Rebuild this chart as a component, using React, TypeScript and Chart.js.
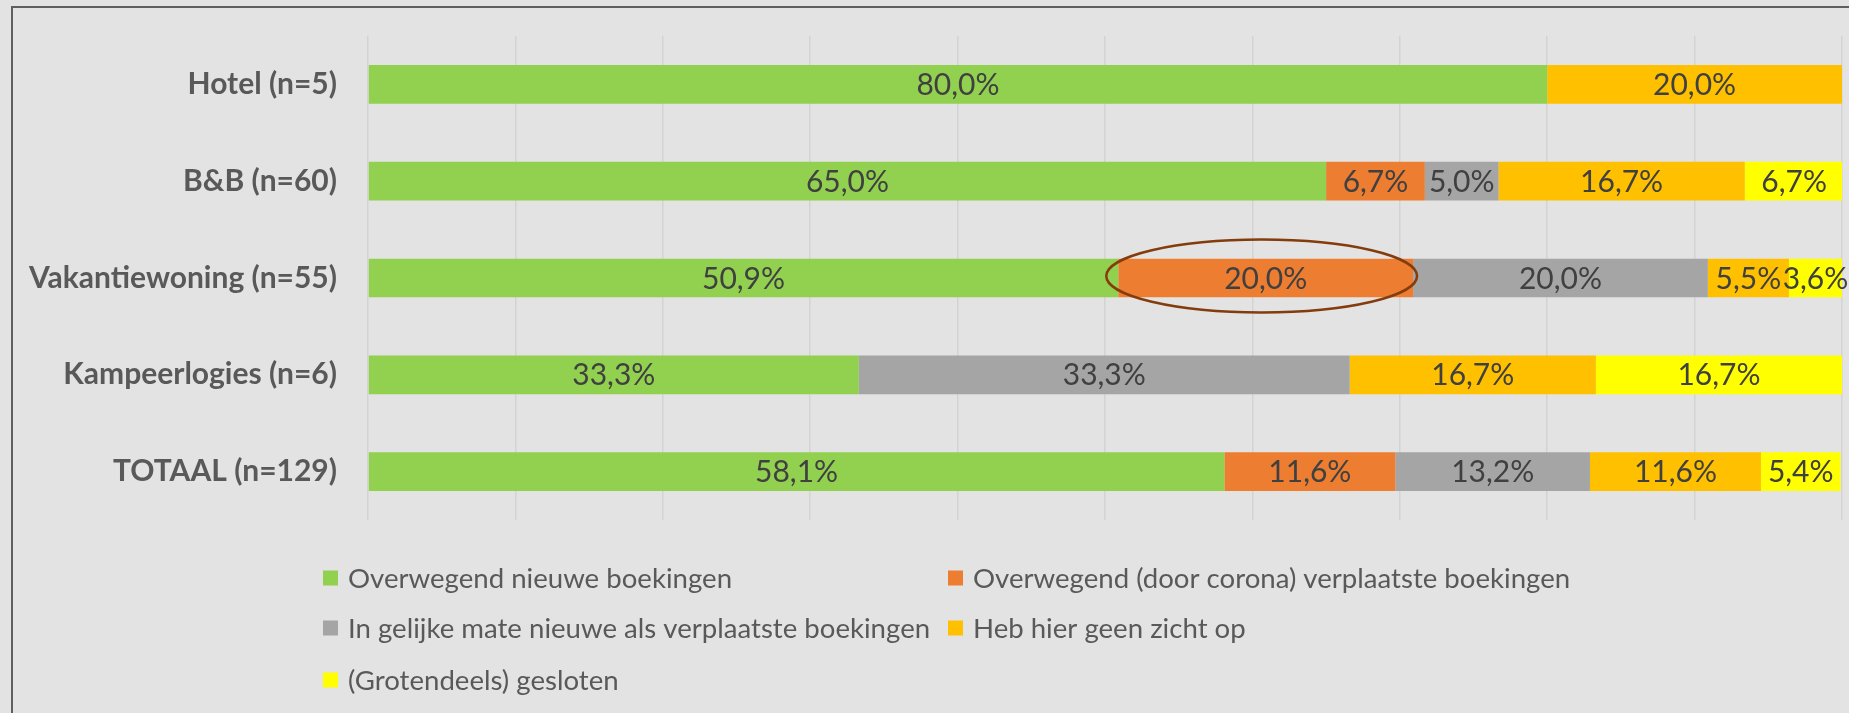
import React, { useEffect, useRef } from 'react';
import { Chart, registerables } from 'chart.js';

Chart.register(...registerables);

const categories = ['Hotel (n=5)', 'B&B (n=60)', 'Vakantiewoning (n=55)', 'Kampeerlogies (n=6)', 'TOTAAL (n=129)'];
const seriesNames = [
  'Overwegend nieuwe boekingen',
  'Overwegend (door corona) verplaatste boekingen',
  'In gelijke mate nieuwe als verplaatste boekingen',
  'Heb hier geen zicht op',
  '(Grotendeels) gesloten',
];
const nieuweBoekingen = [80.0, 65.0, 50.9, 33.3, 58.1];
const verplaatsteBoekingen = [0, 6.7, 20.0, 0, 11.6];
const gelijkeMate = [0, 5.0, 20.0, 33.3, 13.2];
const geenZicht = [20.0, 16.7, 5.5, 16.7, 11.6];
const gesloten = [0, 6.7, 3.6, 16.7, 5.4];
const seriesValues = [nieuweBoekingen, verplaatsteBoekingen, gelijkeMate, geenZicht, gesloten];
const seriesColors = ['#92d050', '#ed7d31', '#a5a5a5', '#ffc000', '#ffff00'];
const highlighted = { category: 2, series: 1 };

const BG = '#e3e3e3';
const FONT = 'Lato';

const fmt = (v: number) => v.toFixed(1).replace('.', ',') + '%';

const backgroundPlugin = {
  id: 'bgBorder',
  beforeDraw(chart: any) {
    const { ctx, width, height } = chart;
    ctx.save();
    ctx.fillStyle = BG;
    ctx.fillRect(0, 0, width, height);
    ctx.strokeStyle = '#5f5f5f';
    ctx.lineWidth = 2;
    ctx.beginPath();
    ctx.moveTo(12, height + 5);
    ctx.lineTo(12, 7);
    ctx.lineTo(width + 5, 7);
    ctx.stroke();
    ctx.restore();
  },
};

const dataLabelPlugin = {
  id: 'dataLabels',
  afterDatasetsDraw(chart: any) {
    const { ctx } = chart;
    ctx.save();
    ctx.font = `30px ${FONT}`;
    ctx.fillStyle = '#404040';
    ctx.textAlign = 'center';
    ctx.textBaseline = 'middle';
    chart.data.datasets.forEach((ds: any, di: number) => {
      const meta = chart.getDatasetMeta(di);
      meta.data.forEach((el: any, i: number) => {
        const v = ds.data[i];
        if (!v) return;
        const cx = (el.x + el.base) / 2;
        ctx.fillText(fmt(v), cx, el.y + 1);
      });
    });
    ctx.restore();
  },
};

const ellipsePlugin = {
  id: 'highlightEllipse',
  afterDatasetsDraw(chart: any) {
    const { ctx } = chart;
    const el = chart.getDatasetMeta(highlighted.series).data[highlighted.category];
    if (!el) return;
    const left = Math.min(el.x, el.base);
    const right = Math.max(el.x, el.base);
    const cx = (left + right) / 2 - 4;
    const rx = (right - left) / 2 + 8;
    const cy = el.y - 2;
    const ry = 36.5;
    ctx.save();
    ctx.strokeStyle = '#843c0c';
    ctx.lineWidth = 2.5;
    ctx.beginPath();
    ctx.ellipse(cx, cy, rx, ry, 0, 0, Math.PI * 2);
    ctx.stroke();
    ctx.restore();
  },
};

const legendPlugin = {
  id: 'gridLegend',
  afterDraw(chart: any) {
    const { ctx, chartArea } = chart;
    const colX = [323, 948];
    const rowOffsets = [58, 108, 160];
    const box = 15;
    ctx.save();
    ctx.font = `27.6px ${FONT}`;
    ctx.textBaseline = 'middle';
    ctx.textAlign = 'left';
    seriesNames.forEach((name, i) => {
      const col = i % 2;
      const row = Math.floor(i / 2);
      const x = colX[col];
      const y = chartArea.bottom + rowOffsets[row];
      ctx.fillStyle = seriesColors[i];
      ctx.fillRect(x, y - box / 2, box, box);
      ctx.fillStyle = '#595959';
      ctx.fillText(name, x + 25, y + 1);
    });
    ctx.restore();
  },
};

export default function App() {
  const canvasRef = useRef<HTMLCanvasElement | null>(null);

  useEffect(() => {
    document.body.style.margin = '0';
    document.body.style.background = BG;
    const canvas = canvasRef.current;
    if (!canvas) return;
    const chart = new Chart(canvas, {
      type: 'bar',
      data: {
        labels: categories,
        datasets: seriesNames.map((name, i) => ({
          label: name,
          data: seriesValues[i],
          backgroundColor: seriesColors[i],
          borderWidth: 0,
          barPercentage: 0.4,
          categoryPercentage: 1.0,
        })),
      },
      options: {
        indexAxis: 'y',
        responsive: false,
        animation: false,
        devicePixelRatio: 1,
        layout: { padding: { top: 36, right: 7, bottom: 193, left: 0 } },
        plugins: {
          legend: { display: false },
          tooltip: { enabled: false },
          title: { display: false },
        },
        scales: {
          x: {
            stacked: true,
            min: 0,
            max: 100,
            ticks: { display: false, stepSize: 10 },
            grid: { color: '#d3d3d3', lineWidth: 1.5, drawTicks: false },
            border: { display: false },
            afterFit: (s: any) => {
              s.height = 0;
              s.paddingLeft = 0;
              s.paddingRight = 0;
              s.paddingTop = 0;
              s.paddingBottom = 0;
            },
          },
          y: {
            stacked: true,
            grid: { display: false, drawTicks: false },
            border: { display: false },
            ticks: {
              color: '#595959',
              padding: 31,
              font: { family: FONT, weight: 'bold', size: 30 },
            },
            afterFit: (s: any) => {
              s.width = 368;
              s.paddingTop = 0;
              s.paddingBottom = 0;
              s.paddingLeft = 0;
              s.paddingRight = 0;
            },
          },
        },
      },
      plugins: [backgroundPlugin, dataLabelPlugin, ellipsePlugin, legendPlugin],
    } as any);
    return () => chart.destroy();
  }, []);

  return (
    <div style={{ position: 'fixed', left: 0, top: 0, width: 1849, height: 713, background: BG }}>
      <canvas ref={canvasRef} width={1849} height={713} style={{ display: 'block' }} />
    </div>
  );
}
